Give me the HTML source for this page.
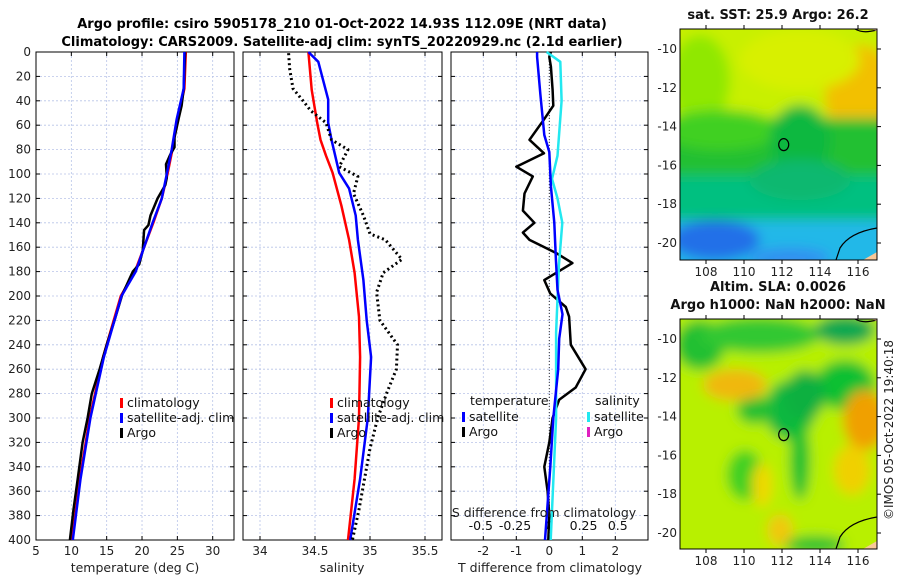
<!DOCTYPE html>
<html><head><meta charset="utf-8">
<style>
html,body{margin:0;padding:0;background:#fff;}
body{width:900px;height:580px;overflow:hidden;font-family:"DejaVu Sans","Liberation Sans",sans-serif;}
svg text{font-family:"DejaVu Sans","Liberation Sans",sans-serif;}
</style></head>
<body>
<svg id="fig" width="900" height="580" viewBox="0 0 900 580" xmlns="http://www.w3.org/2000/svg">
<defs>
<filter id="blur1" x="-20%" y="-20%" width="140%" height="140%"><feGaussianBlur stdDeviation="6"/></filter>
<filter id="blur2" x="-20%" y="-20%" width="140%" height="140%"><feGaussianBlur stdDeviation="6"/></filter>
<clipPath id="clipMap1"><rect x="680" y="29" width="197" height="231"/></clipPath>
<clipPath id="clipMap2"><rect x="680" y="319" width="197" height="230"/></clipPath>
</defs>
<text x="342" y="28" text-anchor="middle" font-size="13" font-weight="bold">Argo profile: csiro 5905178_210 01-Oct-2022 14.93S 112.09E (NRT data)</text>
<text x="342" y="46" text-anchor="middle" font-size="13" font-weight="bold">Climatology: CARS2009. Satellite-adj clim: synTS_20220929.nc (2.1d earlier)</text>
<g id="panels"></g>
<g id="maps"></g>
<text transform="translate(893,430) rotate(-90)" text-anchor="middle" font-size="12" fill="#222">©IMOS 05-Oct-2022 19:40:18</text>
</svg>
<script>
// ---------- data ----------
const depthTicks = [0,20,40,60,80,100,120,140,160,180,200,220,240,260,280,300,320,340,360,380,400];
// Panel 1: temperature
const tempTicks = [5,10,15,20,25,30];
const tempClimDepth = [0,30,55,80,100,120,140,160,180,200,250,300,350,400];
const tempClimVal   = [26.2,26.0,25.0,24.3,23.6,22.8,21.6,20.3,19.0,17.0,14.5,12.6,11.2,10.1];
const tempSatDepth  = [0,30,55,80,100,120,140,160,180,200,250,300,350,400];
const tempSatVal    = [26.0,25.9,24.9,24.2,23.5,22.8,21.5,20.3,19.1,17.1,14.6,12.7,11.3,10.2];
const tempArgoDepth = [0,30,44,54,70,78,84,92,103,109,120,134,142,146,163,174,180,199,220,240,260,280,300,320,350,375,400];
const tempArgoVal   = [26.1,25.9,25.6,25.2,24.6,24.6,24.0,23.4,23.5,23.3,22.2,21.2,20.9,20.3,20.1,19.6,18.7,17.2,16.1,15.0,14.0,12.9,12.3,11.6,10.9,10.3,9.8];
// Panel 2: salinity
const salTicks = [34,34.5,35,35.5];
const salClimDepth = [0,31,58,72,85,99,126,154,181,217,250,300,350,400];
const salClimVal   = [34.44,34.47,34.52,34.55,34.6,34.66,34.74,34.81,34.86,34.9,34.91,34.9,34.86,34.8];
const salSatDepth  = [0,8,39,58,72,99,112,134,154,187,220,250,300,350,400];
const salSatVal    = [34.44,34.53,34.62,34.62,34.65,34.72,34.81,34.87,34.89,34.94,34.97,35.01,34.98,34.91,34.82];
const salArgoDepth = [1,14,30,41,48,58,72,80,94,102,116,134,149,154,170,181,197,220,240,260,280,300,325,350,375,400];
const salArgoVal   = [34.26,34.27,34.3,34.4,34.46,34.6,34.65,34.8,34.72,34.89,34.85,34.94,35.0,35.14,35.29,35.12,35.06,35.09,35.25,35.24,35.15,35.07,35.0,34.95,34.9,34.84];
// Panel 3: differences
const tdiffTicks = [-2,-1,0,1,2];
const sdiffTicks = [-0.5,-0.25,0,0.25,0.5];
const tdiffArgoDepth = [0,4,12,31,44,56,72,83,94,102,116,130,140,148,154,165,173,179,187,198,209,217,240,260,275,285,300,320,340,360,380,400];
const tdiffArgoVal   = [0.05,0,0.05,0.1,0.12,-0.18,-0.6,-0.16,-1.0,-0.5,-0.75,-0.8,-0.45,-0.8,-0.6,0.22,0.7,0.33,-0.15,0.03,0.5,0.6,0.65,1.1,0.8,0.3,0.1,0.0,-0.15,-0.05,0.0,-0.03];
const tdiffSatDepth = [0,4,35,68,82,110,140,170,195,215,235,260,300,340,400];
const tdiffSatVal   = [-0.37,-0.37,-0.27,-0.15,0,0.05,0.15,0.2,0.25,0.4,0.3,0.27,0.12,0.03,-0.13];
const sdiffSatDepth = [0,8,40,85,104,120,140,175,230,300,400];
const sdiffSatVal   = [-0.02,0.08,0.09,0.06,0.02,0.06,0.095,0.07,0.05,0.05,0.01];
// Maps
const lonTicks = [108,110,112,114,116];
const latTicks = [-10,-12,-14,-16,-18,-20];

const NS='http://www.w3.org/2000/svg';
function mk(tag, attrs, parent){const e=document.createElementNS(NS,tag);for(const k in attrs)e.setAttribute(k,attrs[k]);if(parent)parent.appendChild(e);return e;}
const panels=document.getElementById('panels');
const Y0=52, Y1=540;
function yD(d){return Y0+(d/400)*(Y1-Y0);}

function buildPanel(name,x0,x1,xmin,xmax,ticks,showY,tickFmt){
  const g=mk('g',{},panels);
  
  
  const xs=v=>x0+(v-xmin)/(xmax-xmin)*(x1-x0);
  depthTicks.forEach(d=>{ if(d>0&&d<400){const l=mk('line',{x1:x0,x2:x1,y1:yD(d),y2:yD(d),stroke:'#b8c4e8','stroke-width':0.8,'stroke-dasharray':'2,2'},g);
    
    }});
  ticks.forEach(t=>{const x=xs(t); if(x>x0+1&&x<x1-1){const l=mk('line',{x1:x,x2:x,y1:Y0,y2:Y1,stroke:'#b8c4e8','stroke-width':0.8,'stroke-dasharray':'2,2'},g);
    
    }});
  depthTicks.forEach(d=>{mk('line',{x1:x0,x2:x0+4,y1:yD(d),y2:yD(d),stroke:'#000'},g);mk('line',{x1:x1-4,x2:x1,y1:yD(d),y2:yD(d),stroke:'#000'},g);
    if(showY){const t=mk('text',{x:x0-5,y:yD(d)+4,'text-anchor':'end','font-size':12,fill:'#222'},g);t.textContent=d;
      
      }});
  ticks.forEach(v=>{const x=xs(v);mk('line',{x1:x,x2:x,y1:Y1,y2:Y1-4,stroke:'#000'},g);mk('line',{x1:x,x2:x,y1:Y0,y2:Y0+4,stroke:'#000'},g);
    if(tickFmt){const t=mk('text',{x:x,y:555,'text-anchor':'middle','font-size':12,fill:'#222'},g);t.textContent=tickFmt(v);
      
      }});
  const b=mk('rect',{x:x0,y:Y0,width:x1-x0,height:Y1-Y0,fill:'none',stroke:'#000','stroke-width':1},g);
  
  
  return {g,xs};
}
function line(p,depths,vals,xs,color,w,dash,nm){
  const pts=depths.map((d,i)=>xs(vals[i]).toFixed(1)+','+yD(d).toFixed(1)).join(' ');
  const a={points:pts,fill:'none',stroke:color,'stroke-width':w,'stroke-linejoin':'round'};
  if(dash)a['stroke-dasharray']=dash;
  const l=mk('polyline',a,p.g);
  
  
}
function legend(p,x,y,items){
  items.forEach((it,i)=>{
    const yy=y+i*15;
    const m=mk('rect',{x:x,y:yy-9,width:3,height:10,fill:it[1]},p.g);
    
    
    const t=mk('text',{x:x+7,y:yy,'font-size':12.5,fill:'#111'},p.g);t.textContent=it[0];
    
    
  });
}
function label(txt,x,y,nm){const t=mk('text',{x:x,y:y,'text-anchor':'middle','font-size':12.5,fill:'#222'},panels);t.textContent=txt;
  
  }

const p1=buildPanel('temperature-panel',36,234,5,5+(234-36.5)/7.05,tempTicks,true,v=>v);
line(p1,tempClimDepth,tempClimVal,p1.xs,'#ff0000',2.5,null,'temp-climatology-line');
line(p1,tempArgoDepth,tempArgoVal,p1.xs,'#000',2.5,null,'temp-argo-line');
line(p1,tempSatDepth,tempSatVal,p1.xs,'#0000ff',2.5,null,'temp-satellite-line');
legend(p1,120,407,[['climatology','#ff0000'],['satellite-adj. clim','#0000ff'],['Argo','#000']]);
label('temperature (deg C)',135,572,'temperature-axis-title');

const p2=buildPanel('salinity-panel',243,442,34-(260-243)/110,34+(442-260)/110,salTicks,false,v=>v);
line(p2,salClimDepth,salClimVal,p2.xs,'#ff0000',2.5,null,'sal-climatology-line');
line(p2,salSatDepth,salSatVal,p2.xs,'#0000ff',2.5,null,'sal-satellite-line');
line(p2,salArgoDepth,salArgoVal,p2.xs,'#000',3,'2,3','sal-argo-line');
legend(p2,330,407,[['climatology','#ff0000'],['satellite-adj. clim','#0000ff'],['Argo','#000']]);
label('salinity',342,572,'salinity-axis-title');

const p3=buildPanel('difference-panel',451,648,-(549.3-451)/33,(648-549.3)/33,tdiffTicks,false,v=>v);
const xsS=v=>549.3+v*137;
sdiffTicks.forEach(v=>{const t=mk('text',{x:xsS(v),y:530,'text-anchor':'middle','font-size':12.5,fill:'#111'},p3.g);t.textContent=v;
  
  });
const zl=mk('line',{x1:549.3,x2:549.3,y1:Y0,y2:Y1,stroke:'#333','stroke-width':1,'stroke-dasharray':'1,2'},p3.g);


line(p3,tdiffArgoDepth,tdiffArgoVal,p3.xs,'#000',2.5,null,'tdiff-argo-line');
line(p3,sdiffSatDepth,sdiffSatVal,xsS,'#22e8f0',2.5,null,'sdiff-satellite-line');
line(p3,tdiffSatDepth,tdiffSatVal,p3.xs,'#0000ff',2.5,null,'tdiff-satellite-line');
(function(){
  const t=mk('text',{x:470,y:405,'font-size':12.5,fill:'#111'},p3.g);t.textContent='temperature';
  
  
  const s=mk('text',{x:595,y:405,'font-size':12.5,fill:'#111'},p3.g);s.textContent='salinity';
  
  
})();
legend(p3,462,421,[['satellite','#0000ff'],['Argo','#000']]);
legend(p3,587,421,[['satellite','#22e8f0'],['Argo','#e020c0']]);
label('S difference from climatology',544,517,'s-diff-axis-title');
label('T difference from climatology',550,572,'t-diff-axis-title');

// ---------- maps ----------
const maps=document.getElementById('maps');
const MX0=680,MX1=877;
const lonX=v=>706+(v-108)*19.0;
function buildMap(name,y0,y1,lat10y,clipId,blobs,blurId,title1,title2){
  const g=mk('g',{},maps);
  
  
  const latY=v=>lat10y+(-10-v)*19.4;
  const cg=mk('g',{'clip-path':'url(#'+clipId+')'},g);
  const inner=mk('g',{filter:'url(#'+blurId+')'},cg);
  blobs.forEach(b=>{
    if(b[0]==='r')mk('rect',{x:b[1],y:b[2],width:b[3],height:b[4],fill:b[5]},inner);
    else mk('ellipse',{cx:b[1],cy:b[2],rx:b[3],ry:b[4],fill:b[5]},inner);
  });
  mk('path',{d:`M ${MX1-14} ${y1} L ${MX1} ${y1-8} L ${MX1} ${y1} Z`,fill:'#f8c898'},cg);
  mk('path',{d:`M ${MX1} ${y1-32} C 865 ${y1-30}, 848 ${y1-25}, 840 ${y1-12} L 836 ${y1}`,fill:'none',stroke:'#000','stroke-width':1.2},cg);
  mk('path',{d:`M ${MX1-22} ${y0} C ${MX1-15} ${y0+4}, ${MX1-8} ${y0+3}, ${MX1} ${y0+1}`,fill:'none',stroke:'#000','stroke-width':1.2},cg);
  mk('path',{d:`M ${MX1-6} ${y0} L ${MX1} ${y0+2} L ${MX1} ${y0} Z`,fill:'#f8c898'},cg);
  const fr=mk('rect',{x:MX0,y:y0,width:MX1-MX0,height:y1-y0,fill:'none',stroke:'#000','stroke-width':1},g);
  
  
  const c=mk('ellipse',{cx:lonX(112.09),cy:latY(-14.93),rx:5,ry:6,fill:'none',stroke:'#000','stroke-width':1.2},g);
  
  
  lonTicks.forEach(v=>{const x=lonX(v);mk('line',{x1:x,x2:x,y1:y1,y2:y1+4,stroke:'#000'},g);mk('line',{x1:x,x2:x,y1:y0,y2:y0-4,stroke:'#000'},g);
    const t=mk('text',{x:x,y:y1+16,'text-anchor':'middle','font-size':12,fill:'#222'},g);t.textContent=v;
    
    });
  latTicks.forEach(v=>{const y=latY(v);mk('line',{x1:MX1,x2:MX1+4,y1:y,y2:y,stroke:'#000'},g);
    const t=mk('text',{x:MX0-3,y:y+4,'text-anchor':'end','font-size':12,fill:'#222'},g);t.textContent=v;
    
    });
  [title1,title2].forEach((tt,i)=>{ if(!tt)return;
    const t=mk('text',{x:778,y:(title2? y0-28+i*18 : y0-10),'text-anchor':'middle','font-size':13,'font-weight':'bold',fill:'#111'},g);t.textContent=tt;
    
    });
}
buildMap('sst-map',29,260,49,'clipMap1',[
  ['r',660,10,240,110,'#c8f000'],
  ['e',700,80,30,45,'#90e800'],
  ['e',860,95,35,50,'#f2c000'],
  ['e',800,60,60,30,'#d8f000'],
  ['r',660,118,240,60,'#20c030'],
  ['e',720,130,60,20,'#40d020'],
  ['e',800,140,30,35,'#10b840'],
  ['r',660,175,240,45,'#00c080'],
  ['e',800,180,50,20,'#10b870'],
  ['r',660,220,240,60,'#20b8e8'],
  ['e',715,240,45,20,'#2070e8'],
  ['e',790,258,40,10,'#3090f0']
],'blur2','sat. SST: 25.9 Argo: 26.2',null);
buildMap('sla-map',319,549,339,'clipMap2',[
  ['r',660,300,240,270,'#b8f000'],
  ['e',700,345,25,25,'#20c030'],
  ['e',760,335,60,18,'#30c830'],
  ['e',845,330,30,15,'#10a850'],
  ['e',845,385,30,25,'#10c030'],
  ['e',790,410,25,30,'#10b840'],
  ['e',805,395,20,25,'#10b040'],
  ['e',800,460,10,40,'#10c030'],
  ['e',755,410,18,14,'#20c030'],
  ['e',745,475,18,25,'#40d020'],
  ['e',735,385,32,16,'#f0b810'],
  ['e',865,420,22,30,'#f0a000'],
  ['e',852,470,18,25,'#f0d000'],
  ['e',780,530,13,16,'#f0c810'],
  ['e',762,485,10,22,'#f0d800'],
  ['e',815,545,30,9,'#20c030']
],'blur1','Altim. SLA: 0.0026','Argo h1000: NaN h2000: NaN');
</script>
</body></html>
